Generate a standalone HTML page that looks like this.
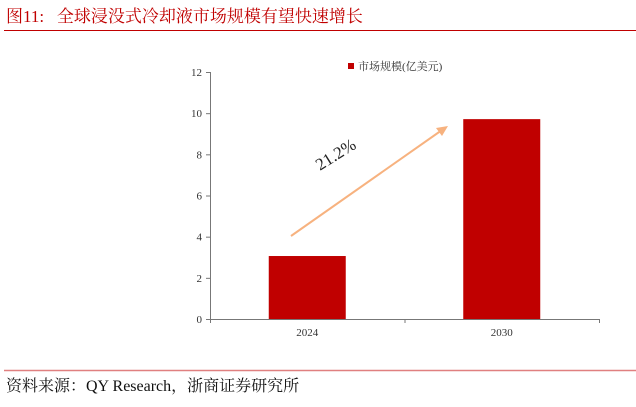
<!DOCTYPE html>
<html><head><meta charset="utf-8"><style>
body{margin:0;width:636px;height:402px;background:#fff;overflow:hidden;font-family:"Liberation Serif","Noto Serif CJK SC",serif}
</style></head><body>
<svg width="636" height="402" xmlns="http://www.w3.org/2000/svg">
<text x="6" y="22" font-size="17" fill="#c00000" font-family="Liberation Serif, Noto Serif CJK SC, serif">图11:&#160;&#160;&#160;全球浸没式冷却液市场规模有望快速增长</text>
<line x1="4" y1="30.5" x2="636" y2="30.5" stroke="#c00000" stroke-width="1"/>
<g id="plot"></g>
<rect x="348" y="63" width="6" height="6" fill="#c00000"/>
<text x="358" y="70" font-size="11" fill="#333" font-family="Liberation Serif, Noto Serif CJK SC, serif">市场规模(亿美元)</text>
<line x1="291" y1="236" x2="442" y2="130" stroke="#f7b27f" stroke-width="2"/>
<polygon points="448,126 436,128 442,136" fill="#f7b27f"/>
<text x="336" y="160" font-size="17" fill="#222" text-anchor="middle" transform="rotate(-32 336 155)">21.2%</text>
<line x1="4" y1="370.5" x2="636" y2="370.5" stroke="#e08080" stroke-width="1.5"/>
<text x="6" y="391" font-size="16" fill="#111" font-family="Liberation Serif, Noto Serif CJK SC, serif">资料来源：QY Research，浙商证券研究所</text>
</svg>
<script>
const categories=["2024","2030"];
const values=[3.06,9.71];
const yTicks=[0,2,4,6,8,10,12];
const ns="http://www.w3.org/2000/svg";
const g=document.getElementById('plot');
const x0=210,x1=599,yb=319,yt=72,ymax=12;
const y=v=>yb-(v/ymax)*(yb-yt);
const bw=(x1-x0)/categories.length;
const xc=i=>x0+bw*(i+0.5);
function mk(t,a){const e=document.createElementNS(ns,t);for(const k in a)e.setAttribute(k,a[k]);g.appendChild(e);return e;}
let ax=mk('line',{x1:x0+0.5,y1:yt,x2:x0+0.5,y2:yb,stroke:'#777'});


yTicks.forEach(t=>{
 let l=mk('line',{x1:x0-4,y1:y(t)+0.5,x2:x0,y2:y(t)+0.5,stroke:'#777'});
 
 
 let tx=mk('text',{x:x0-8,y:y(t)+4,'font-size':11,'text-anchor':'end',fill:'#333'});
 tx.textContent=t;
 
 
});
categories.forEach((c,i)=>{
 let r=mk('rect',{x:xc(i)-38.5,y:y(values[i]),width:77,height:yb-y(values[i]),fill:'#c00000'});
 
 
 let tx=mk('text',{x:xc(i),y:yb+17,'font-size':11,'text-anchor':'middle',fill:'#333'});
 tx.textContent=c;
 
 
});
for(let i=0;i<=categories.length;i++){
 let l=mk('line',{x1:x0+bw*i+0.5,y1:yb,x2:x0+bw*i+0.5,y2:yb+4,stroke:'#777'});
 
 
}
let xa=mk('line',{x1:x0,y1:yb+0.5,x2:x1,y2:yb+0.5,stroke:'#777'});


</script>
</body></html>
